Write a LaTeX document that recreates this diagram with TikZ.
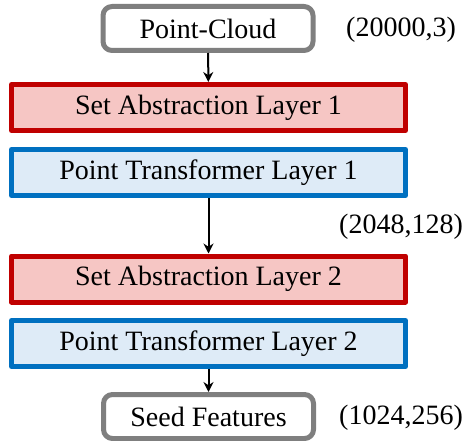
\documentclass[tikz,border=0pt]{standalone}
\usepackage{fontspec}
\setmainfont{Liberation Serif}
\usetikzlibrary{arrows.meta}
\definecolor{saRed}{HTML}{C00000}
\definecolor{saFill}{HTML}{F6C6C4}
\definecolor{ptBlue}{HTML}{0070C0}
\definecolor{ptFill}{HTML}{DEEBF7}
\definecolor{ioGray}{HTML}{7F7F7F}
\begin{document}
\begin{tikzpicture}[x=1pt, y=-1pt, font=\fontsize{28}{32}\selectfont, line join=round, >={Stealth[length=10pt,width=10pt]},
  iobox/.style={draw=ioGray, fill=white, line width=5pt, rounded corners=9pt, minimum width=210pt, minimum height=44pt, inner sep=0pt},
  sabox/.style={draw=saRed, fill=saFill, line width=5pt, minimum width=394pt, minimum height=46pt, inner sep=0pt},
  ptbox/.style={draw=ptBlue, fill=ptFill, line width=5pt, minimum width=394pt, minimum height=46pt, inner sep=0pt},
  dims/.style={inner sep=0pt}]
		\useasboundingbox (0,0) rectangle (468,441);
		\node[iobox] (pc) at (208,28.5) {Point-Cloud};
		\node[sabox] (sa1) at (208.5,107.5) {Set Abstraction Layer 1};
		\node[ptbox] (pt1) at (208.5,172.5) {Point Transformer Layer 1};
		\node[sabox] (sa2) at (208.5,279) {Set Abstraction Layer 2};
		\node[ptbox] (pt2) at (208.5,343.5) {Point Transformer Layer 2};
		\node[iobox] (seed) at (208.5,416.5) {Seed Features};
		\node[dims] (d1) at (401,30) {(20000,3)};
		\node[dims] (d2) at (401,227) {(2048,128)};
		\node[dims] (d3) at (401,418) {(1024,256)};
		\foreach \a/\b in {pc/sa1,pt1/sa2,pt2/seed}\draw[->, line width=2pt] (\a) -- (\b);
\end{tikzpicture}
\end{document}
